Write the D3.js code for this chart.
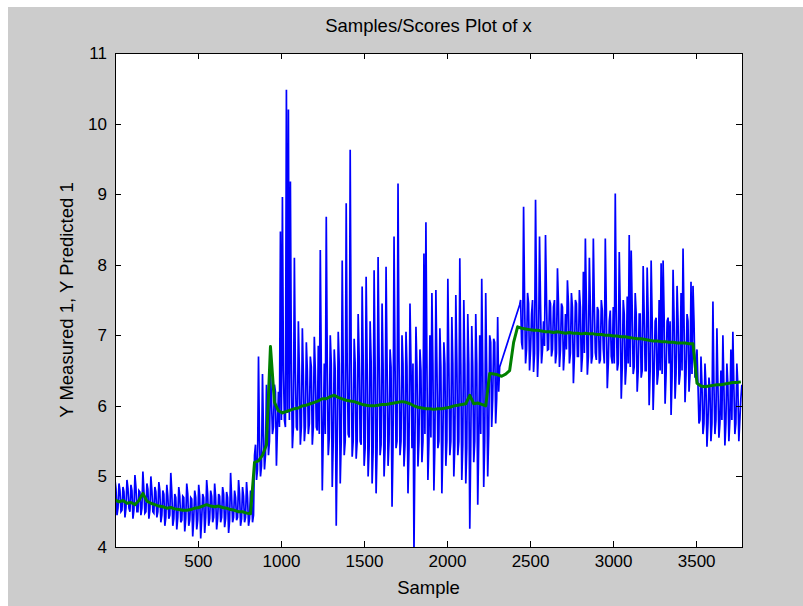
<!DOCTYPE html>
<html>
<head>
<meta charset="utf-8">
<title>Samples/Scores Plot of x</title>
<script src="https://cdnjs.cloudflare.com/ajax/libs/d3/7.8.5/d3.min.js"></script>
<style>
  body { margin: 0; background: #fff; }
  svg text { font-family: "Liberation Sans", Arial, Helvetica, sans-serif; fill: #000; }
  .axis path, .axis line { stroke: #000; shape-rendering: crispEdges; }
  .axis text { font-size: 17px; }
  .measured { fill: none; stroke: #0000ff; stroke-width: 1.7px; stroke-linejoin: miter; }
  .predicted { fill: none; stroke: #008000; stroke-width: 3px; stroke-linejoin: round; }
</style>
</head>
<body>
<div id="chart"></div>
<script>
// sample axis
var sampleFirst = 1;
var sampleLast = 3776;
var xTicks = [500, 1000, 1500, 2000, 2500, 3000, 3500];
var yTicks = [4, 5, 6, 7, 8, 9, 10, 11];

// Y measured 1 - peaks read every 12 samples, starting at sample 1
var measuredStep = 12;
var measuredPart1 = [
  4.95, 4.45, 4.9, 4.5, 4.85, 4.42, 4.95, 4.55, 4.88, 4.4,
  5.02, 4.5, 4.8, 4.45, 5.07, 4.48, 4.9, 4.4, 5.0, 4.5,
  4.85, 4.42, 4.92, 4.35, 4.8, 4.3, 4.88, 4.4, 5.05, 4.3,
  4.75, 4.25, 4.85, 4.35, 4.72, 4.22, 4.9, 4.3, 4.7, 4.15,
  4.8, 4.25, 4.88, 4.12, 4.75, 4.2, 4.95, 4.3, 4.8, 4.35,
  4.9, 4.25, 4.75, 4.35, 4.85, 4.28, 4.78, 4.2, 5.05, 4.35,
  4.8, 4.38, 4.95, 4.3, 4.85, 4.35, 4.92, 4.3, 4.8, 4.35,
  5.3, 4.95, 6.7, 5.0, 6.45, 5.1, 6.3, 5.3, 6.5, 5.6,
  6.3, 5.15, 6.2, 8.47, 8.96, 5.8, 10.48, 10.2, 9.18, 5.4,
  8.1, 5.7, 7.2, 5.45, 7.1, 5.5, 6.9, 5.6, 6.7, 5.45,
  6.98, 5.7, 6.85, 8.21, 4.8, 6.6, 8.68, 5.3, 7.0, 4.85,
  6.8, 4.3, 7.05, 4.9, 8.06, 5.3, 8.87, 5.6, 9.63, 5.28,
  6.95, 5.25, 7.3, 5.5, 7.69, 5.15, 7.83, 5.0, 7.2, 4.9,
  7.92, 4.76, 8.11, 5.3, 7.45, 5.0, 7.97, 5.15, 6.8, 4.57,
  8.4, 5.4, 9.15, 5.3, 7.0, 5.14, 7.05, 4.76, 7.45, 5.4,
  3.9, 7.12, 5.14, 6.8, 5.2, 8.16, 8.6, 4.95, 7.0, 7.6,
  4.8, 7.64, 5.4, 7.1, 4.76, 6.9, 5.15, 7.8, 5.3, 7.26,
  5.0, 7.57, 5.3, 8.09, 4.95, 7.5, 4.9, 7.3, 4.26, 7.13,
  5.2, 7.3, 4.6, 7.0, 7.8, 4.85, 7.6, 5.0, 7.0, 5.7,
  6.95, 5.75, 7.26, 6.55
];
// dense core of the band, read 6 samples after each peak value above
var measuredCore1 = [
  4.82, 4.55, 4.8, 4.52, 4.78, 4.55, 4.83, 4.5, 4.8, 4.53,
  4.85, 4.5, 4.78, 4.55, 4.8, 4.5, 4.82, 4.52, 4.8, 4.48,
  4.78, 4.5, 4.8, 4.45, 4.75, 4.42, 4.72, 4.45, 4.78, 4.4,
  4.7, 4.42, 4.72, 4.38, 4.7, 4.4, 4.75, 4.38, 4.68, 4.4,
  4.7, 4.38, 4.72, 4.4, 4.7, 4.42, 4.75, 4.4, 4.72, 4.42,
  4.7, 4.4, 4.72, 4.42, 4.75, 4.4, 4.7, 4.38, 4.72, 4.42,
  4.7, 4.42, 4.75, 4.4, 4.72, 4.42, 4.7, 4.4, 4.72, 4.45,
  5.45, 5.1, 5.5, 5.15, 5.6, 5.3, 5.9, 5.5, 6.1, 5.7,
  6.2, 5.7, 5.7, 5.8, 6.5, 5.7, 5.9, 5.8, 6.5, 5.7,
  6.5, 5.65, 6.5, 5.7, 6.45, 5.7, 6.5, 5.75, 6.55, 5.7,
  6.5, 5.65, 5.6, 6.55, 5.6, 5.6, 6.6, 5.55, 6.6, 5.5,
  6.5, 5.5, 6.6, 5.5, 6.6, 5.5, 6.6, 5.55, 6.65, 5.5,
  6.6, 5.5, 6.7, 5.45, 6.7, 5.4, 6.6, 5.4, 6.65, 5.35,
  6.6, 5.4, 6.7, 5.45, 6.6, 5.4, 6.6, 5.5, 6.55, 5.45,
  6.6, 5.5, 6.65, 5.5, 6.6, 5.45, 6.55, 5.4, 6.6, 6.6,
  5.5, 6.55, 5.5, 6.5, 5.5, 5.6, 6.6, 5.5, 5.55, 6.6,
  5.45, 6.6, 5.5, 6.55, 5.45, 6.6, 5.5, 6.6, 5.5, 6.6,
  5.45, 6.65, 5.5, 6.6, 5.45, 6.6, 5.4, 6.6, 5.45, 6.55,
  5.5, 6.6, 5.5, 5.6, 6.6, 5.5, 6.5, 5.6, 6.9, 6.1,
  6.9, 6.1, 6.2
];
// no samples between the two parts, the line just joins them
var measuredPart2Start = 2437;
var measuredPart2 = [
  7.43, 6.9, 8.82, 6.6, 7.6, 6.5, 7.3, 6.48, 8.92, 6.41,
  8.4, 6.6, 7.2, 8.42, 6.79, 7.5, 6.7, 7.4, 6.6, 7.95,
  6.55, 7.45, 6.5, 7.3, 7.78, 6.6, 7.6, 6.32, 7.5, 6.7,
  7.64, 6.48, 7.9, 8.37, 6.44, 8.1, 6.6, 8.37, 6.75, 7.4,
  6.6, 7.5, 6.8, 8.37, 6.25, 7.2, 6.7, 7.4, 9.01, 6.5,
  8.18, 6.1, 7.5, 6.3, 7.55, 8.42, 8.2, 6.45, 7.6, 6.2,
  7.3, 6.4, 7.98, 6.5, 7.96, 6.01, 8.06, 5.94, 7.2, 6.3,
  7.5, 8.02, 8.06, 6.03, 7.2, 6.6, 5.87, 7.93, 6.1, 7.7,
  6.3, 7.6, 8.23, 6.05, 7.3, 6.2, 7.76, 7.7, 6.4, 6.8,
  5.75, 6.7, 5.6, 6.6, 5.42, 6.4, 5.5, 7.48, 5.6, 7.1,
  5.55, 6.5, 7.0, 5.44, 6.6, 5.5, 6.8, 7.05, 5.6, 6.6,
  5.5, 6.1
];
var measuredCore2 = [
  7.5, 6.8, 7.5, 6.8, 7.45, 6.8, 7.5, 6.75, 7.5, 6.8,
  7.45, 6.8, 6.85, 7.5, 6.8, 7.45, 6.8, 7.5, 6.75, 7.45,
  6.8, 7.4, 6.75, 6.8, 7.45, 6.75, 7.4, 6.7, 7.45, 6.7,
  7.4, 6.7, 6.75, 7.45, 6.7, 7.4, 6.7, 7.4, 6.65, 7.35,
  6.65, 7.35, 6.6, 7.4, 6.6, 7.35, 6.6, 6.6, 7.35, 6.6,
  7.35, 6.55, 7.3, 6.55, 6.6, 6.55, 7.35, 6.55, 7.3, 6.5,
  7.3, 6.5, 7.3, 6.5, 7.3, 6.5, 7.25, 6.45, 7.25, 6.45,
  6.5, 6.45, 7.3, 6.45, 7.25, 7.2, 6.4, 7.25, 6.45, 7.2,
  6.45, 6.5, 7.2, 6.45, 7.2, 6.45, 6.45, 7.2, 6.5, 6.3,
  5.8, 6.3, 5.75, 6.3, 5.75, 6.25, 5.75, 6.3, 5.8, 6.3,
  5.75, 5.8, 6.3, 5.75, 6.3, 5.8, 5.8, 6.3, 5.75, 6.3,
  5.8, 6.3
];

// Y predicted 1 - read every 24 samples, starting at sample 1
var predictedStep = 24;
var predicted = [
  4.67, 4.64, 4.66, 4.62, 4.63, 4.6, 4.66, 4.76, 4.65, 4.62,
  4.6, 4.58, 4.57, 4.55, 4.56, 4.54, 4.53, 4.52, 4.52, 4.53,
  4.55, 4.56, 4.58, 4.6, 4.58, 4.57, 4.58, 4.56, 4.55, 4.53,
  4.52, 4.5, 4.5, 4.48, 4.47, 5.2, 5.22, 5.3, 5.45, 6.84,
  6.05, 5.93, 5.9, 5.92, 5.94, 5.96, 5.97, 6.0, 6.01, 6.03,
  6.05, 6.07, 6.1, 6.1, 6.13, 6.15, 6.12, 6.1, 6.08, 6.07,
  6.06, 6.04, 6.02, 6.01, 6.0, 6.0, 6.01, 6.02, 6.02, 6.03,
  6.04, 6.05, 6.06, 6.05, 6.03, 6.0, 5.98, 5.97, 5.96, 5.96,
  5.95, 5.96, 5.96, 5.97, 5.98, 6.0, 6.01, 6.02, 6.03, 6.15,
  6.03, 6.04, 6.02, 6.0, 6.46, 6.45, 6.44, 6.42, 6.45, 6.5,
  6.9, 7.12, 7.1, 7.09, 7.08, 7.07, 7.07, 7.06, 7.05, 7.05,
  7.04, 7.05, 7.04, 7.03, 7.04, 7.03, 7.03, 7.02, 7.03, 7.02,
  7.02, 7.01, 7.01, 7.0, 7.0, 6.99, 6.99, 6.98, 6.98, 6.97,
  6.96, 6.95, 6.95, 6.94, 6.93, 6.92, 6.92, 6.91, 6.91, 6.9,
  6.9, 6.89, 6.89, 6.89, 6.88, 6.88, 6.32, 6.28, 6.27, 6.28,
  6.29, 6.3, 6.3, 6.31, 6.32, 6.33, 6.33, 6.34
];

var breite = 803, hoehe = 606;
var rand = { links: 115, oben: 53, rechts: 61, unten: 59 };
var w = breite - rand.links - rand.rechts;
var h = hoehe - rand.oben - rand.unten;

function zusammen(start, peaks, core) {
  var punkte = [];
  peaks.forEach(function (v, i) {
    var s = start + i * measuredStep;
    punkte.push({ s: s, v: v });
    if (i < core.length) punkte.push({ s: s + measuredStep / 2, v: core[i] });
  });
  return punkte;
}

var measuredPunkte = zusammen(sampleFirst, measuredPart1, measuredCore1)
  .concat(zusammen(measuredPart2Start, measuredPart2, measuredCore2));
var predictedPunkte = predicted.map(function (v, i) {
  return { s: sampleFirst + i * predictedStep, v: v };
});

var x = d3.scaleLinear().domain([sampleFirst, sampleLast]).range([0, w]);
var y = d3.scaleLinear().domain([4, 11]).range([h, 0]);

var svg = d3.select("#chart").append("svg")
  .attr("width", breite)
  .attr("height", hoehe);

svg.append("rect").attr("width", breite).attr("height", hoehe).attr("fill", "#fff");
svg.append("rect").attr("x", 8).attr("y", 7)
  .attr("width", breite - 8).attr("height", hoehe - 7).attr("fill", "#cccccc");

var g = svg.append("g").attr("transform", "translate(" + rand.links + "," + rand.oben + ")");

g.append("rect").attr("width", w).attr("height", h).attr("fill", "#fff");

g.append("clipPath").attr("id", "clip")
  .append("rect").attr("width", w).attr("height", h);

var linie = d3.line()
  .x(function (d) { return x(d.s); })
  .y(function (d) { return y(d.v); });

g.append("path")
  .datum(measuredPunkte)
  .attr("class", "measured")
  .attr("clip-path", "url(#clip)")
  .attr("d", linie);

g.append("path")
  .datum(predictedPunkte)
  .attr("class", "predicted")
  .attr("clip-path", "url(#clip)")
  .attr("d", linie);

// box with inward ticks on all sides
var ganz = d3.format("d");
g.append("g").attr("class", "axis")
  .attr("transform", "translate(0," + h + ")")
  .call(d3.axisBottom(x).tickValues(xTicks).tickFormat(ganz)
    .tickSizeInner(-6).tickSizeOuter(0).tickPadding(8));
g.append("g").attr("class", "axis")
  .call(d3.axisTop(x).tickValues(xTicks).tickSizeInner(-6).tickSizeOuter(0).tickFormat(""));
g.append("g").attr("class", "axis")
  .call(d3.axisLeft(y).tickValues(yTicks).tickFormat(ganz)
    .tickSizeInner(-6).tickSizeOuter(0).tickPadding(8));
g.append("g").attr("class", "axis")
  .attr("transform", "translate(" + w + ",0)")
  .call(d3.axisRight(y).tickValues(yTicks).tickSizeInner(-6).tickSizeOuter(0).tickFormat(""));

g.selectAll(".axis text").attr("fill", "#000");

svg.append("text")
  .attr("x", rand.links + w / 2).attr("y", 32)
  .attr("text-anchor", "middle").style("font-size", "18.5px")
  .text("Samples/Scores Plot of x");

svg.append("text")
  .attr("x", rand.links + w / 2).attr("y", 594)
  .attr("text-anchor", "middle").style("font-size", "18.5px")
  .text("Sample");

svg.append("text")
  .attr("transform", "translate(73," + (rand.oben + h / 2) + ") rotate(-90)")
  .attr("text-anchor", "middle").style("font-size", "18.5px")
  .text("Y Measured 1, Y Predicted 1");
</script>
</body>
</html>
